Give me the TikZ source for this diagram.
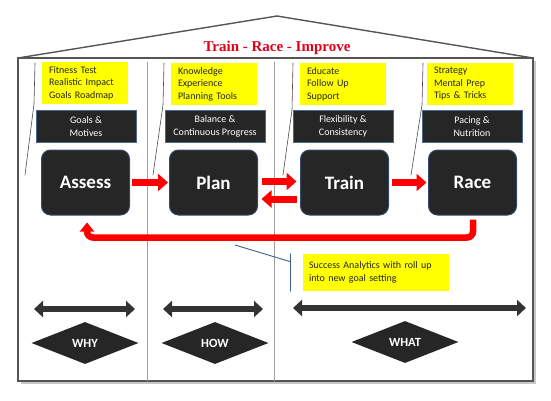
\documentclass[tikz,border=0pt]{standalone}
\usepackage{fontspec}
\setmainfont{Carlito}
\newfontfamily\mottofont{Liberation Serif}
\usetikzlibrary{arrows.meta,shapes.geometric,positioning}

\definecolor{boxdark}{HTML}{262626}
\definecolor{edgeblue}{HTML}{4A6890}
\definecolor{stageblue}{HTML}{34496A}
\definecolor{calloutblue}{HTML}{3F5F8C}
\definecolor{arrowred}{HTML}{FF0000}
\definecolor{mottored}{HTML}{E2001A}
\definecolor{noteyellow}{HTML}{FFFF00}
\definecolor{wallgray}{HTML}{555555}
\definecolor{spangray}{HTML}{333333}

\begin{document}
\begin{tikzpicture}[x=1pt,y=-1pt,line cap=round]
  % Styles and colors
  \tikzset{
    house/.style={line width=1.4pt,draw=wallgray},
    divider/.style={line width=0.7pt,draw=gray!75},
    leader/.style={line width=0.6pt,draw=black!70},
    note/.style={fill=noteyellow,text=black!85,font=\fontsize{10}{12.5}\selectfont,
      align=left,text width=72pt,inner xsep=7pt,inner ysep=0pt,minimum height=42pt},
    theme/.style={fill=boxdark,draw=edgeblue,line width=1pt,text=white,
      font=\fontsize{10}{13}\selectfont,align=center,minimum width=100pt,
      minimum height=32pt,inner sep=0pt},
    stage/.style={fill=boxdark,draw=stageblue,line width=1pt,rounded corners=9pt,
      text=white,font=\fontsize{19}{22}\selectfont\bfseries,minimum width=88pt,
      minimum height=65pt,inner sep=0pt},
    flow/.style={draw=arrowred,line width=7pt,line cap=butt,-{Triangle[length=10pt,width=17pt]}},
    loopback/.style={draw=arrowred,line width=6.5pt,line cap=butt,rounded corners=6pt,
      -{Triangle[length=9pt,width=14pt]}},
    span/.style={draw=spangray,line width=6pt,line cap=butt,
      {Triangle[length=9pt,width=16pt]}-{Triangle[length=9pt,width=16pt]}},
    tag/.style={diamond,fill=boxdark,text=white,font=\fontsize{12.5}{14}\selectfont\bfseries,
      minimum width=107pt,minimum height=42pt,inner sep=0pt},
    bracket/.style={line width=0.9pt,draw=calloutblue}
  }
  \useasboundingbox (0,0) rectangle (551,400);

  % House outline with roof
  \fill[black!22] (21,61) rectangle (536,384);
  \fill[white] (18,58) rectangle (533,381);
  \draw[house] (18,58) rectangle (533,381);
  \draw[house] (18,58) -- (277,16) -- (533,58);
  \node[font=\mottofont\fontsize{15}{17}\selectfont\bfseries,text=mottored] (motto) at (277,48) {Train - Race - Improve};

  % Column dividers
  \draw[divider] (147,62) -- (147,381);
  \draw[divider] (274,62) -- (274,381);

  % Bracket leaders of the notes
  \draw[leader] (35,63) -- (34,104) -- (25,175);
  \draw[leader] (164,63) -- (163,105) -- (153,175);
  \draw[leader] (293,63) -- (292,110) -- (283,175);
  \draw[leader] (423,63) -- (422,105) -- (411,175);

  % Yellow notes
  \node[note] (fitness) at (85,83) {Fitness Test\\Realistic Impact\\Goals Roadmap};
  \node[note] (knowledge) at (214,84) {Knowledge\\Experience\\Planning Tools};
  \node[note] (educate) at (343,84) {Educate\\Follow Up\\Support};
  \node[note] (strategy) at (470,84) {Strategy\\Mental Prep\\Tips \& Tricks};

  % Themes
  \node[theme] (goals) at (86,126.5) {Goals \&\\Motives};
  \node[theme] (balance) at (215,126.5) {Balance \&\\Continuous Progress};
  \node[theme] (flex) at (343,126.5) {Flexibility \&\\Consistency};
  \node[theme] (pacing) at (472,126.5) {Pacing \&\\Nutrition};

  % Stages
  \node[stage] (assess) at (85.5,182.5) {Assess};
  \node[stage] (plan) at (213.5,182.5) {Plan};
  \node[stage] (train) at (344.5,182.5) {Train};
  \node[stage] (race) at (472.5,182.5) {Race};

  % Red flow
  \draw[flow,shorten <=2pt,shorten >=1pt] (assess) -- (plan);
  \draw[flow,shorten <=3.5pt,shorten >=3.5pt] ([yshift=1pt]plan.east) -- ([yshift=1pt]train.west);
  \draw[flow,shorten <=3.5pt,shorten >=3.5pt] ([yshift=-16.5pt]train.west) -- ([yshift=-16.5pt]plan.east);
  \draw[flow,shorten <=2.5pt,shorten >=1.5pt] (train) -- (race);
  \draw[loopback,shorten <=4pt,shorten >=7pt] ([xshift=0.5pt]race.south) -- ++(0,22) -| ([xshift=1.5pt]assess.south);

  % Success analytics callout
  \node[note,text width=134pt,inner xsep=6pt,minimum height=37pt] (success) at (376,272.5)
    {Success Analytics with roll up\\into new goal setting};
  \coordinate (bracktop) at ([xshift=-12pt]success.north west);
  \coordinate (brackbot) at ([xshift=-12pt]success.south west);
  \coordinate (brackmid) at ([xshift=-12pt,yshift=-8pt]success.north west);
  \coordinate (analytics) at (235,245);
  \draw[bracket] (bracktop) -- (brackbot);
  \draw[bracket] (brackmid) -- (analytics);

  % Why, how, what
  \node[tag] (why) at (85,343) {WHY};
  \node[tag] (how) at (215,343) {HOW};
  \node[tag] (what) at (405,342) {WHAT};
  \coordinate (whyL) at (34,309);  \coordinate (whyR) at (135,309);
  \coordinate (howL) at (163,309); \coordinate (howR) at (263,309);
  \coordinate (whatL) at (293,308); \coordinate (whatR) at (526,308);
  \draw[span] (whyL) -- (whyR);
  \draw[span] (howL) -- (howR);
  \draw[span] (whatL) -- (whatR);
\end{tikzpicture}
\end{document}
